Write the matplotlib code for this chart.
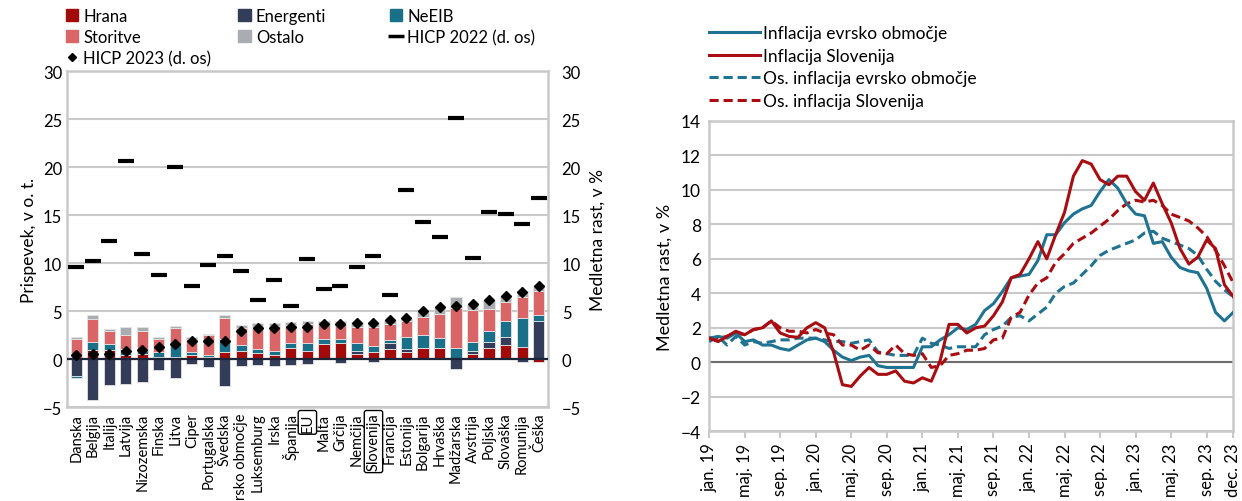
import matplotlib.pyplot as plt
import numpy as np
from matplotlib.patches import Patch
from matplotlib.lines import Line2D

plt.rcParams['font.family'] = ['Lato', 'DejaVu Sans']

# --- left chart data (contributions, pp) ---
countries = ['Danska', 'Belgija', 'Italija', 'Latvija', 'Nizozemska', 'Finska', 'Litva',
             'Ciper', 'Portugalska', 'Švedska', 'Evrsko območje', 'Luksemburg', 'Irska',
             'Španija', 'EU', 'Malta', 'Grčija', 'Nemčija', 'Slovenija', 'Francija',
             'Estonija', 'Bolgarija', 'Hrvaška', 'Madžarska', 'Avstrija', 'Poljska',
             'Slovaška', 'Romunija', 'Češka']
hrana = [0.15, 0.95, 0.95, 0.4, 0.5, 0.25, 0.2, 0.4, 0.2, 0.7, 0.8, 0.6, 0.4, 1.2, 0.85,
         1.55, 1.65, 0.5, 0.7, 1.05, 0.75, 1.2, 1.2, 0.0, 0.5, 1.2, 1.5, 1.3, -0.25]
energenti = [-1.8, -4.25, -2.7, -2.6, -2.4, -1.15, -2.0, -0.5, -0.85, -2.8, -0.7, -0.65,
             -0.7, -0.6, -0.5, 0.0, -0.35, 0.3, -0.3, 0.6, 0.35, 0.0, 0.0, -1.05, 0.35,
             0.55, 0.85, -0.3, 4.0]
neeib = [-0.15, 0.8, 0.6, 0.7, 0.4, 0.5, 1.35, 0.35, 0.2, 1.4, 0.65, 0.5, 0.4, 0.45, 0.8,
         0.6, 0.5, 0.9, 0.7, 0.35, 1.2, 1.3, 1.0, 1.2, 0.9, 1.15, 1.6, 3.0, 0.65]
storitve = [2.0, 2.4, 1.4, 1.45, 2.0, 1.4, 1.65, 1.3, 2.1, 2.2, 1.75, 2.0, 2.65, 1.9, 2.0,
            1.4, 1.55, 1.65, 2.0, 1.65, 1.65, 1.9, 2.55, 4.1, 3.4, 2.3, 2.0, 2.15, 2.45]
ostalo = [0.15, 0.5, 0.15, 0.85, 0.45, 0.2, 0.3, 0.25, 0.15, 0.3, 0.35, 0.7, 0.35, 0.35,
          0.3, 0.45, 0.25, 0.5, 0.5, 0.45, 0.25, 0.55, 0.6, 1.2, 0.5, 0.95, 0.6, 0.7, 0.65]
hicp22 = [9.6, 10.2, 12.3, 20.7, 11.0, 8.8, 20.0, 7.6, 9.8, 10.8, 9.2, 6.2, 8.2, 5.5, 10.4,
          7.3, 7.6, 9.6, 10.8, 6.7, 17.6, 14.3, 12.7, 25.1, 10.5, 15.3, 15.1, 14.1, 16.8]
hicp23 = [0.4, 0.5, 0.5, 0.9, 1.0, 1.3, 1.6, 1.9, 1.9, 1.9, 2.9, 3.2, 3.2, 3.3, 3.4, 3.7,
          3.7, 3.8, 3.8, 4.1, 4.3, 5.0, 5.4, 5.5, 5.7, 6.2, 6.6, 7.0, 7.6]

# --- right chart data (y/y, %) monthly jan 2019 - dec 2023 ---
ea_hicp = [1.4, 1.5, 1.4, 1.7, 1.2, 1.3, 1.0, 1.0, 0.8, 0.7, 1.0, 1.3,
           1.4, 1.2, 0.7, 0.3, 0.1, 0.3, 0.4, -0.2, -0.3, -0.3, -0.3, -0.3,
           0.9, 0.9, 1.3, 1.6, 2.0, 1.9, 2.2, 3.0, 3.4, 4.1, 4.9, 5.0,
           5.1, 5.9, 7.4, 7.4, 8.1, 8.6, 8.9, 9.1, 9.9, 10.6, 10.1, 9.2,
           8.6, 8.5, 6.9, 7.0, 6.1, 5.5, 5.3, 5.2, 4.3, 2.9, 2.4, 2.9]
si_hicp = [1.4, 1.2, 1.5, 1.8, 1.6, 1.9, 2.0, 2.4, 1.7, 1.5, 1.45, 2.0,
           2.3, 2.0, 0.6, -1.3, -1.4, -0.8, -0.3, -0.7, -0.7, -0.5, -1.1, -1.2,
           -0.9, -1.1, 0.1, 2.2, 2.2, 1.7, 2.0, 2.1, 2.7, 3.5, 4.9, 5.1,
           6.0, 7.0, 6.0, 7.4, 8.7, 10.8, 11.7, 11.5, 10.6, 10.3, 10.8, 10.8,
           9.9, 9.4, 10.4, 9.2, 8.1, 6.6, 5.7, 6.1, 7.1, 6.6, 4.5, 3.8]
ea_core = [1.2, 1.5, 1.0, 1.5, 1.0, 1.2, 1.1, 1.2, 1.3, 1.3, 1.4, 1.4,
           1.4, 1.3, 1.2, 1.2, 1.1, 1.2, 1.3, 0.6, 0.5, 0.4, 0.4, 0.4,
           1.4, 1.1, 1.0, 0.8, 0.9, 0.9, 0.9, 1.6, 1.9, 2.1, 2.6, 2.7,
           2.4, 2.8, 3.2, 4.0, 4.4, 4.6, 5.1, 5.6, 6.2, 6.5, 6.7, 6.9,
           7.1, 7.5, 7.6, 7.2, 7.0, 6.8, 6.6, 6.2, 5.4, 4.7, 4.2, 3.8]
si_core = [1.4, 1.4, 1.5, 1.7, 1.6, 1.9, 2.0, 2.4, 2.0, 1.8, 1.8, 1.7,
           1.9, 1.7, 1.6, 1.0, 1.0, 0.7, 1.0, 0.55, 0.5, 1.0, 0.5, 0.4,
           0.5, -0.3, -0.2, 0.4, 0.5, 0.7, 0.7, 0.8, 1.3, 1.4, 2.6, 2.9,
           3.9, 4.6, 4.9, 5.8, 6.3, 6.9, 7.2, 7.5, 7.9, 8.3, 8.8, 9.2,
           9.4, 9.3, 9.4, 9.1, 8.6, 8.4, 8.2, 7.8, 7.3, 6.5, 5.6, 4.6]
month_ticks = [0, 4, 8, 12, 16, 20, 24, 28, 32, 36, 40, 44, 48, 52, 56, 59]
month_labels = ['jan. 19', 'maj. 19', 'sep. 19', 'jan. 20', 'maj. 20', 'sep. 20',
                'jan. 21', 'maj. 21', 'sep. 21', 'jan. 22', 'maj. 22', 'sep. 22',
                'jan. 23', 'maj. 23', 'sep. 23', 'dec. 23']

c_hrana = '#a30b0b'
c_energ = '#333c58'
c_neeib = '#1b7089'
c_stor = '#d96566'
c_ost = '#a9adb2'
c_teal = '#1f7391'
c_red = '#a80d12'
grid_c = '#c9c9c9'

fig = plt.figure(figsize=(12.42, 5.02), dpi=100)

# ================= left chart =================
ax = fig.add_axes([0.054, 0.187, 0.387, 0.669])
x = np.arange(len(countries))
comps = [(hrana, c_hrana, 'Hrana'), (energenti, c_energ, 'Energenti'),
         (neeib, c_neeib, 'NeEIB'), (storitve, c_stor, 'Storitve'), (ostalo, c_ost, 'Ostalo')]
pos_b = np.zeros(len(x))
neg_b = np.zeros(len(x))
for vals, col, lab in comps:
    v = np.array(vals)
    bottom = np.where(v >= 0, pos_b, neg_b)
    ax.bar(x, v, bottom=bottom, width=0.68, color=col, edgecolor='#e4e4e4',
           linewidth=0.6, zorder=3, label=lab)
    pos_b += np.where(v >= 0, v, 0)
    neg_b += np.where(v < 0, v, 0)

ax.plot(x, hicp22, linestyle='none', marker='_', markersize=12, mew=3, color='black', zorder=5)
ax.plot(x, hicp23, linestyle='none', marker='D', markersize=4.6, color='black', zorder=5)
ax.axhline(0, color='#1c2438', lw=1.6, zorder=4)

ax.set_xlim(-0.55, len(x) - 0.45)
ax.set_ylim(-5, 30)
ax.set_yticks(range(-5, 31, 5))
ax.grid(axis='y', color=grid_c, lw=1.5, zorder=0)
ax.set_xticks(x)
ax.set_xticklabels(countries, rotation=90, fontsize=10.5)
for lbl in ax.get_xticklabels():
    if lbl.get_text() in ('EU', 'Slovenija'):
        lbl.set_bbox(dict(boxstyle='round,pad=0.15', fc='none', ec='black', lw=1))
ax.tick_params(axis='both', length=0, labelsize=12)
ax.tick_params(axis='x', pad=4, labelsize=10.5)
for s in ax.spines.values():
    s.set_color(grid_c)
    s.set_linewidth(1.8)
ax.set_ylabel('Prispevek, v o. t.', fontsize=12.5, labelpad=4)

ax2 = ax.twinx()
ax2.set_ylim(-5, 30)
ax2.set_yticks(range(-5, 31, 5))
ax2.tick_params(axis='y', length=0, labelsize=12, pad=10)
for s in ax2.spines.values():
    s.set_visible(False)
ax2.set_ylabel('Medletna rast, v %', fontsize=12.5, labelpad=6)

sq = dict(handlelength=0.75, handleheight=0.75, handletextpad=0.3, frameon=False,
          fontsize=12, labelspacing=0.3, borderpad=0, borderaxespad=0, loc='upper left')
col1 = [Patch(color=c_hrana), Patch(color=c_stor),
        Line2D([], [], marker='D', color='black', linestyle='none', markersize=4)]
col2 = [Patch(color=c_energ), Patch(color=c_ost)]
col3 = [Patch(color=c_neeib),
        Line2D([], [], marker='_', color='black', linestyle='none', markersize=11, mew=2.5)]
fig.legend(col1, ['Hrana', 'Storitve', 'HICP 2023 (d. os)'],
           bbox_to_anchor=(0.053, 0.982), **sq)
fig.legend(col2, ['Energenti', 'Ostalo'], bbox_to_anchor=(0.192, 0.982), **sq)
fig.legend(col3, ['NeEIB', 'HICP 2022 (d. os)'], bbox_to_anchor=(0.314, 0.982), **sq)

# ================= right chart =================
bx = fig.add_axes([0.571, 0.139, 0.422, 0.618])
m = np.arange(len(ea_hicp))
bx.plot(m, ea_hicp, color=c_teal, lw=2.2, label='Inflacija evrsko območje', zorder=4)
bx.plot(m, si_hicp, color=c_red, lw=2.2, label='Inflacija Slovenija', zorder=4)
bx.plot(m, ea_core, color=c_teal, lw=2.2, ls=(0, (3, 1.6)),
        label='Os. inflacija evrsko območje', zorder=3)
bx.plot(m, si_core, color=c_red, lw=2.2, ls=(0, (3, 1.6)),
        label='Os. inflacija Slovenija', zorder=3)
bx.axhline(0, color='#6e6e6e', lw=1.5, zorder=2)
bx.set_xlim(0, 59)
bx.set_ylim(-4, 14)
bx.set_yticks(range(-4, 15, 2))
bx.grid(axis='y', color=grid_c, lw=1.5, zorder=0)
bx.set_xticks(month_ticks)
bx.set_xticklabels(month_labels, rotation=90, fontsize=12)
bx.tick_params(axis='x', length=5, color=grid_c, width=1.5, pad=3)
bx.tick_params(axis='y', length=0, labelsize=12.5, pad=6)
for s in bx.spines.values():
    s.set_color(grid_c)
    s.set_linewidth(1.8)
bx.set_ylabel('Medletna rast, v %', fontsize=13, labelpad=6)
fig.legend(*bx.get_legend_handles_labels(), loc='upper left', bbox_to_anchor=(0.571, 0.948),
           frameon=False, fontsize=12.5, handlelength=2.9, handletextpad=0.2,
           labelspacing=0.38, borderpad=0, borderaxespad=0)

fig.savefig('out.png', dpi=100)
